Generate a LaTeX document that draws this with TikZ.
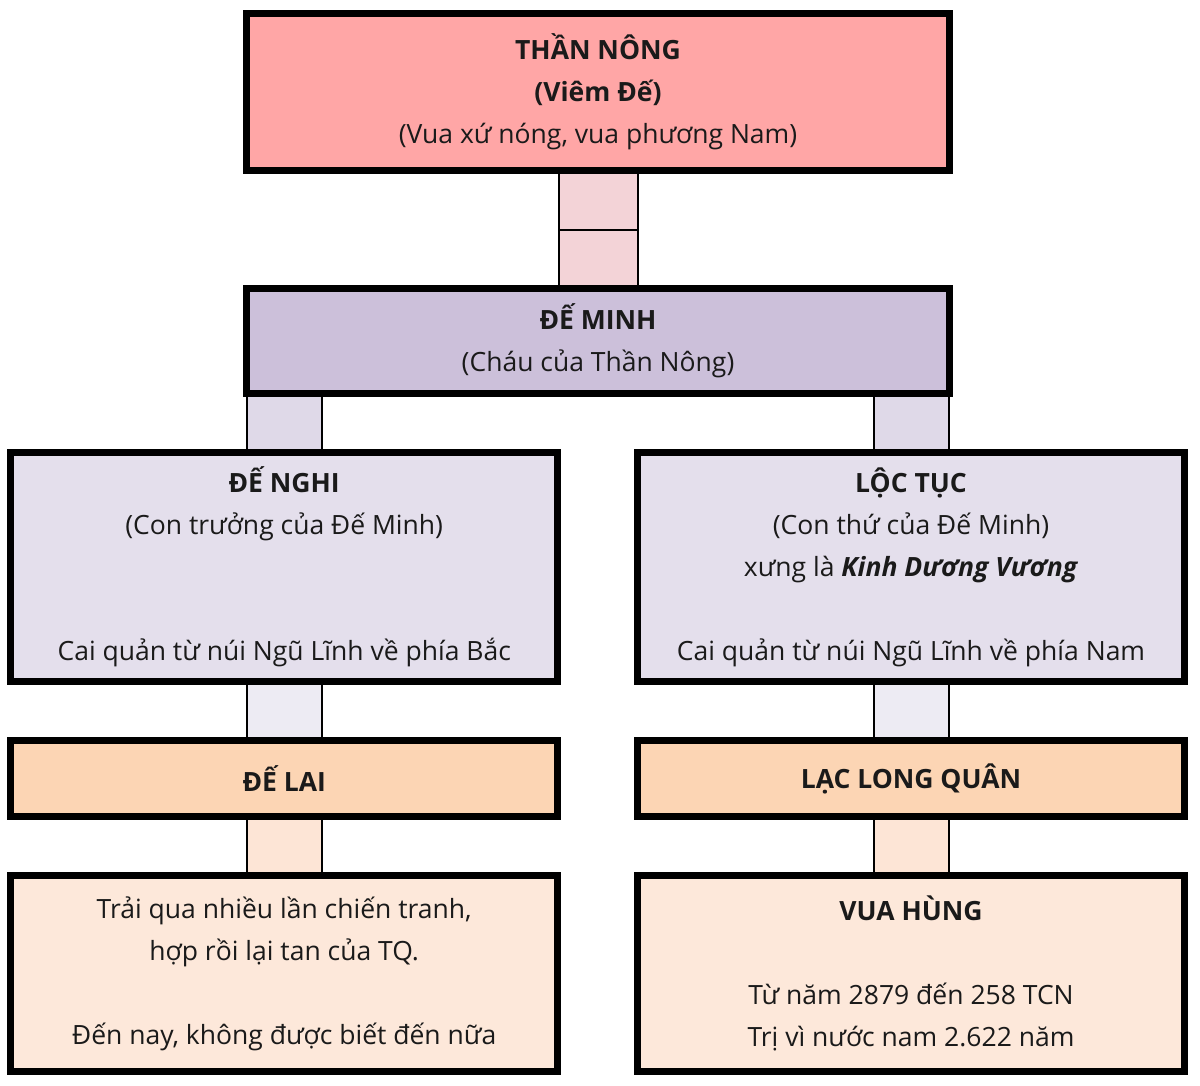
\documentclass[tikz,border=0pt]{standalone}
\usepackage{fontspec}
\setmainfont{Open Sans}
\usetikzlibrary{calc}
\definecolor{txt}{HTML}{1A1A1A}
\definecolor{cTop}{HTML}{FFA6A6}
\definecolor{cTopC}{HTML}{F3D3D7}
\definecolor{cMinh}{HTML}{CCC0DA}
\definecolor{cMinhC}{HTML}{DFD9E8}
\definecolor{cMid}{HTML}{E4DFEC}
\definecolor{cMidC}{HTML}{EDEBF3}
\definecolor{cLai}{HTML}{FCD5B4}
\definecolor{cLaiC}{HTML}{FDE5D6}
\definecolor{cBot}{HTML}{FDE8DA}
\begin{document}
\begin{tikzpicture}[x=1pt,y=-1pt,
  box/.style={draw=black, line width=4.6pt, align=center, inner sep=0pt, text=txt,
    font=\fontsize{26.5}{42}\selectfont},
  conn/.style={draw=black, line width=2pt}]
\useasboundingbox (0,0) rectangle (1200,1085);
\node[box, fill=cTop, minimum width=701pt, minimum height=155pt] (than) at (598,92.2)
  {\textbf{THẦN NÔNG}\\ \textbf{(Viêm Đế)}\\ (Vua xứ nóng, vua phương Nam)};
\node[box, fill=cMinh, minimum width=701pt, minimum height=103pt] (minh) at (598,341)
  {\textbf{ĐẾ MINH}\\ (Cháu của Thần Nông)};
\node[box, fill=cMid, minimum width=545pt, minimum height=227pt] (nghi) at (284.2,567)
  {\textbf{ĐẾ NGHI}\\ (Con trưởng của Đế Minh)\\ \strut\\ \strut\\ Cai quản từ núi Ngũ Lĩnh về phía Bắc};
\node[box, fill=cMid, minimum width=545pt, minimum height=227pt] (loc) at (911,567)
  {\textbf{LỘC TỤC}\\ (Con thứ của Đế Minh)\\ xưng là \textbf{\textit{Kinh Dương Vương}}\\ \strut\\ Cai quản từ núi Ngũ Lĩnh về phía Nam};
\node[box, fill=cLai, minimum width=545pt, minimum height=74pt] (lai) at (284.2,778.5)
  {\textbf{ĐẾ LAI}};
\node[box, fill=cLai, minimum width=545pt, minimum height=74pt] (llq) at (911,778.5)
  {\textbf{LẠC LONG QUÂN}};
\node[box, fill=cBot, minimum width=545pt, minimum height=193pt] (tq) at (284.2,973.5)
  {Trải qua nhiều lần chiến tranh,\\ hợp rồi lại tan của TQ.\\ \strut\\ Đến nay, không được biết đến nữa};
\node[box, fill=cBot, minimum width=545pt, minimum height=193pt] (hung) at (911,973.5)
  {\textbf{VUA HÙNG}\\ \strut\\ Từ năm 2879 đến 258 TCN\\ Trị vì nước nam 2.622 năm};
% connectors
\coordinate (tmid) at ($(than.south)!0.5!(minh.north)$);
\draw[conn, fill=cTopC] ($(than.south)+(-39.5,0)$) rectangle ($(tmid)+(39.5,0)$);
\draw[conn, fill=cTopC] ($(tmid)+(-39.5,0)$) rectangle ($(minh.north)+(39.5,0)$);
\draw[conn, fill=cMinhC] ($(minh.south -| nghi.north)+(-37.5,0)$) rectangle ($(nghi.north)+(37.5,0)$);
\draw[conn, fill=cMinhC] ($(minh.south -| loc.north)+(-37.5,0)$) rectangle ($(loc.north)+(37.5,0)$);
\draw[conn, fill=cMidC] ($(nghi.south)+(-37.5,0)$) rectangle ($(lai.north)+(37.5,0)$);
\draw[conn, fill=cMidC] ($(loc.south)+(-37.5,0)$) rectangle ($(llq.north)+(37.5,0)$);
\draw[conn, fill=cLaiC] ($(lai.south)+(-37.5,0)$) rectangle ($(tq.north)+(37.5,0)$);
\draw[conn, fill=cLaiC] ($(llq.south)+(-37.5,0)$) rectangle ($(hung.north)+(37.5,0)$);
% box borders on top of connectors
\foreach \n in {than,minh,nghi,loc,lai,llq,tq,hung}
  \draw[line width=4.6pt] (\n.north west) rectangle (\n.south east);
\end{tikzpicture}
\end{document}
